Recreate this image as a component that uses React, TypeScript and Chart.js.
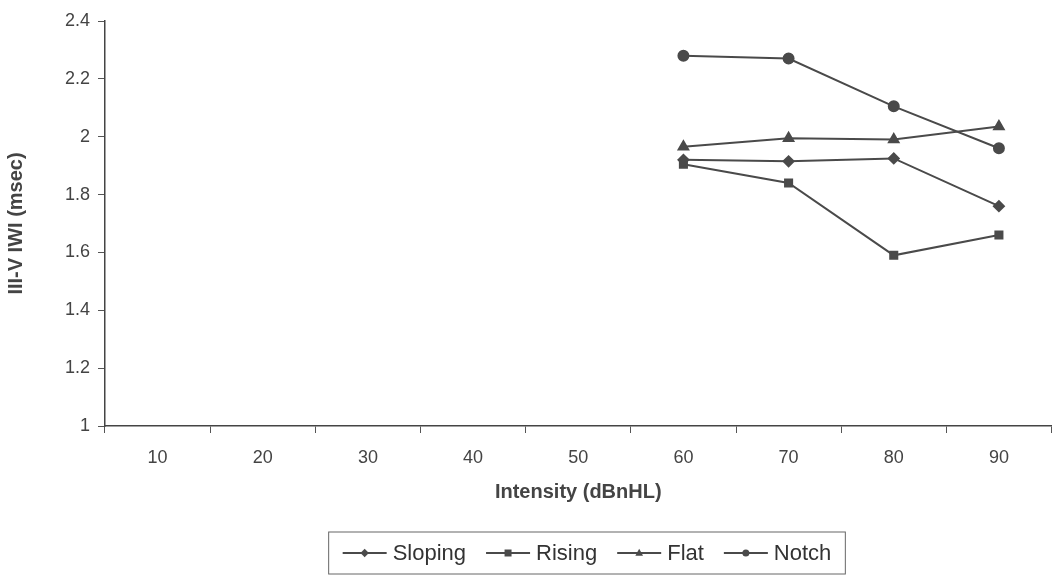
import React, { useEffect, useRef } from "react";
import { Chart, registerables } from "chart.js";

Chart.register(...registerables);

const categories = ["10", "20", "30", "40", "50", "60", "70", "80", "90"];
const sloping = [null, null, null, null, null, 1.92, 1.915, 1.925, 1.76];
const rising = [null, null, null, null, null, 1.905, 1.84, 1.59, 1.66];
const flat = [null, null, null, null, null, 1.965, 1.995, 1.99, 2.035];
const notch = [null, null, null, null, null, 2.28, 2.27, 2.105, 1.96];

const FONT = "'Liberation Sans', Arial, sans-serif";
const INK = "#4a4a4a";

function marker(ctx: CanvasRenderingContext2D, style: string, x: number, y: number, r: number) {
  ctx.beginPath();
  if (style === "circle") {
    ctx.arc(x, y, r, 0, Math.PI * 2);
  } else if (style === "rect") {
    ctx.rect(x - r, y - r, 2 * r, 2 * r);
  } else if (style === "rectRot") {
    ctx.moveTo(x, y - r * 1.2);
    ctx.lineTo(x + r * 1.2, y);
    ctx.lineTo(x, y + r * 1.2);
    ctx.lineTo(x - r * 1.2, y);
    ctx.closePath();
  } else if (style === "triangle") {
    ctx.moveTo(x, y - r * 1.2);
    ctx.lineTo(x + r * 1.1, y + r * 0.8);
    ctx.lineTo(x - r * 1.1, y + r * 0.8);
    ctx.closePath();
  }
  ctx.fill();
}

const legendPlugin = {
  id: "customLegend",
  afterDraw(chart: any) {
    const ctx = chart.ctx;
    const items = chart.data.datasets;
    ctx.save();
    ctx.font = `22px ${FONT}`;
    ctx.textBaseline = "middle";
    const lineLen = 44;
    const gap = 6;
    const spacing = 20;
    let total = 0;
    const widths = items.map((d: any) => {
      const w = lineLen + gap + ctx.measureText(d.label).width;
      total += w;
      return w;
    });
    total += spacing * (items.length - 1);
    const padX = 14;
    const boxW = total + padX * 2;
    const boxH = 42;
    const cx = 587;
    const y0 = 532;
    const x0 = cx - boxW / 2;
    ctx.strokeStyle = "#666";
    ctx.lineWidth = 1;
    ctx.strokeRect(x0, y0, boxW, boxH);
    let x = x0 + padX;
    const yMid = y0 + boxH / 2;
    items.forEach((d: any, i: number) => {
      ctx.strokeStyle = INK;
      ctx.lineWidth = 2;
      ctx.beginPath();
      ctx.moveTo(x, yMid);
      ctx.lineTo(x + lineLen, yMid);
      ctx.stroke();
      ctx.fillStyle = INK;
      marker(ctx, d.pointStyle, x + lineLen / 2, yMid, 3.5);
      ctx.fillStyle = "#333";
      ctx.fillText(d.label, x + lineLen + gap, yMid + 1);
      x += widths[i] + spacing;
    });
    ctx.restore();
  },
};

export default function App() {
  const ref = useRef<HTMLCanvasElement>(null);
  useEffect(() => {
    document.body.style.margin = "0";
    const mk = (label: string, data: any[], pointStyle: string, r: number) => ({
      label,
      data,
      pointStyle,
      pointRadius: r,
      borderColor: INK,
      backgroundColor: INK,
      pointBackgroundColor: INK,
      pointBorderColor: INK,
      borderWidth: 2,
      spanGaps: false,
    });
    const chart = new Chart(ref.current!, {
      type: "line",
      data: {
        labels: categories,
        datasets: [
          mk("Sloping", sloping, "rectRot", 5),
          mk("Rising", rising, "rect", 5),
          mk("Flat", flat, "triangle", 5.5),
          mk("Notch", notch, "circle", 5),
        ],
      },
      options: {
        animation: false,
        responsive: false,
        layout: { padding: { left: 0, right: 0, top: 21, bottom: 70 } },
        plugins: { legend: { display: false }, tooltip: { enabled: false } },
        scales: {
          x: {
            offset: true,
            grid: { offset: true, drawOnChartArea: false, tickLength: 7, color: "#555" },
            border: { color: "#444", width: 1.5 },
            ticks: { color: "#444", font: { size: 18, family: FONT }, padding: 14 },
            title: {
              display: true,
              text: "Intensity (dBnHL)",
              color: "#444",
              font: { size: 20, weight: "bold", family: FONT },
              padding: { top: 6 },
            },
            afterFit(scale: any) {
              scale.height = 82;
            },
          },
          y: {
            min: 1,
            max: 2.4,
            ticks: {
              stepSize: 0.2,
              color: "#444",
              font: { size: 18, family: FONT },
              padding: 8,
              callback: (v: any) => String(Math.round(Number(v) * 10) / 10),
            },
            grid: { drawOnChartArea: false, tickLength: 7, color: "#555" },
            border: { color: "#444", width: 1.5 },
            title: {
              display: true,
              text: "III-V IWI (msec)",
              color: "#444",
              font: { size: 20, weight: "bold", family: FONT },
              padding: { bottom: 4 },
            },
            afterFit(scale: any) {
              scale.width = 105;
            },
          },
        },
      },
      plugins: [legendPlugin],
    } as any);
    return () => chart.destroy();
  }, []);
  return <canvas ref={ref} width={1059} height={578} style={{ display: "block" }} />;
}
